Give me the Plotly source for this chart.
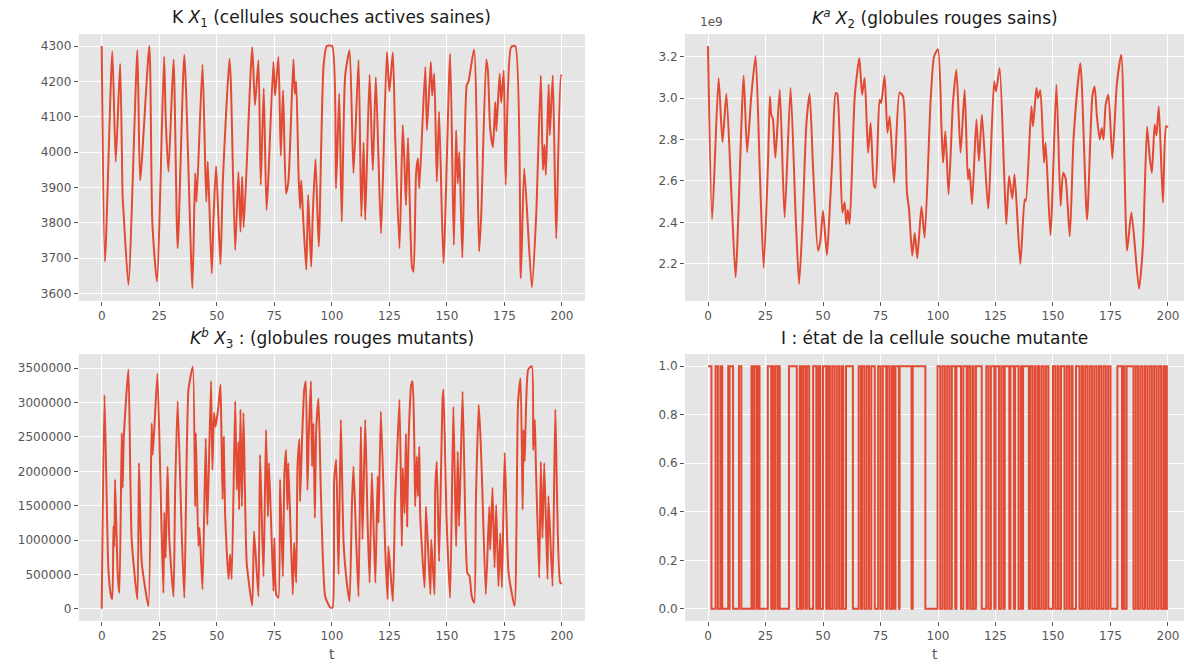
import plotly.graph_objects as go

# ---------------- data ----------------
x1_t = [0, 1.4, 4.6, 6.1, 8, 9.1, 9.4, 11.6, 15.5, 16.7, 20.7, 22, 24, 27.1, 27.8, 29, 31.2, 33, 35.9, 39.4,
        40.6, 41.2, 43.8, 45.4, 46.1, 47.8, 48.6, 49.7, 51.6, 52.6, 55.5, 56.1, 58, 59.4, 60.3, 61, 61.7, 65.4,
        66.6, 68.1, 69.1, 70.4, 71.6, 72.4, 74.6, 75.3, 76.8, 77.8, 78.8, 80.1, 81.1, 83.3, 83.9, 84.5, 85.5,
        86.2, 86.7, 87.4, 88.9, 89.7, 91, 91.7, 92.9, 94.3, 96.4, 97.8, 100.1, 101.8, 103.2, 104.3, 105.8, 107.7,
        109.4, 111.6, 112.8, 113.8, 114.5, 116.4, 117.8, 119.1, 120.3, 121.4, 123.9, 125, 126.5, 127.5, 129.4,
        130.8, 131.5, 132.2, 133.1, 134.8, 135.5, 136.6, 137.4, 138, 140.6, 141.3, 143, 143.6, 144.5, 145.6,
        146.6, 148.5, 151.4, 153, 154, 154.7, 155.4, 156.7, 158.6, 159.4, 161.8, 164, 164.9, 167.1, 167.8,
        168.8, 170, 171, 171.5, 172.9, 173.6, 174.7, 175.5, 177.9, 179.7, 182.1, 183.6, 186.9, 188.8, 190.8,
        191.7, 192.4, 193, 194.2, 194.7, 196, 197.5, 199.6, 200]
x1_val = [4300, 3690, 4285, 3973, 4250, 3870, 3840, 3625, 4288, 3920, 4300, 3800, 3634, 4270, 4095, 3945, 4262,
          3728, 4275, 3615, 3940, 3860, 4247, 3860, 3973, 3657, 3817, 3960, 3683, 3912, 4264, 4200, 3723, 3944,
          3775, 3930, 3787, 4297, 4133, 4260, 3907, 4180, 3836, 3925, 4255, 4160, 4269, 3990, 4175, 3883, 3916,
          4262, 4165, 4200, 3944, 3840, 3920, 3832, 3667, 3879, 3676, 3822, 3980, 3733, 4245, 4300, 4300, 3897,
          4165, 3803, 4217, 4288, 3940, 4260, 3817, 4027, 3808, 4219, 3949, 4212, 3973, 3770, 4283, 4172, 4282,
          4048, 3728, 4077, 3977, 3850, 4040, 3676, 3662, 3940, 3982, 3897, 4241, 4062, 4255, 4160, 4222, 3916,
          4114, 3686, 4278, 3737, 4062, 3911, 4000, 3702, 4189, 4200, 4290, 3719, 3822, 4262, 4231, 4066, 4014,
          4142, 4060, 4222, 4140, 4231, 3907, 4297, 4300, 3643, 3954, 3617, 3822, 4217, 3949, 4020, 3935, 4191,
          4048, 4217, 3756, 4217, 4215]

x2_t = [0, 1.8, 4.6, 6.3, 8, 10.2, 12, 15.5, 17, 18.8, 20.7, 22.5, 24.2, 26.1, 26.9, 27.5, 28.2, 29.3, 31.2,
        33.3, 35.9, 38.1, 39.6, 41, 42.8, 44.2, 45.7, 47.8, 48.8, 50, 51.7, 52.6, 54.1, 55.5, 56.2, 58.4, 59.4,
        60.1, 60.8, 61.6, 63.8, 65.8, 67, 68.1, 69.6, 70.7, 72.2, 72.8, 74.6, 75.3, 76.8, 78, 79, 80.9, 83.3,
        84.8, 86.5, 87.4, 88.8, 89.9, 91, 92.8, 94.2, 96.8, 98.3, 100, 101.5, 102.2, 103.2, 104.6, 106.5, 108,
        109.8, 111.6, 113, 113.7, 114.8, 116.7, 117.8, 119.1, 121.8, 124.4, 125.2, 126.8, 128.7, 129.7, 130.9,
        132.3, 133.3, 135.8, 137.7, 138.2, 140.6, 141.3, 142.8, 143.5, 144.5, 146.1, 146.8, 148.9, 151.5, 153.3,
        154.4, 155.5, 157.3, 159, 161.9, 164.8, 167.1, 168.1, 169.1, 170.3, 171.2, 172, 172.9, 174.1, 175.8,
        177.8, 179.7, 182.2, 184.1, 187.4, 189.1, 190.9, 192, 193, 194.2, 195, 196, 197.8, 199.2, 200]
x2_1e9 = [3.25, 2.416, 3.096, 2.787, 3.021, 2.528, 2.136, 3.107, 2.739, 3.008, 3.203, 2.656, 2.181, 2.688, 3.008,
          2.92, 2.9, 2.712, 3.04, 2.424, 3.048, 2.432, 2.104, 2.376, 2.88, 3.021, 2.656, 2.264, 2.307, 2.456,
          2.243, 2.392, 2.72, 3.024, 3.02, 2.448, 2.496, 2.392, 2.46, 2.392, 3.008, 3.192, 3.016, 3.096, 2.736,
          2.88, 2.576, 2.568, 2.992, 2.976, 3.107, 2.832, 2.912, 2.592, 3.027, 3.008, 2.544, 2.464, 2.24, 2.349,
          2.227, 2.477, 2.328, 2.992, 3.2, 3.235, 2.864, 2.688, 2.84, 2.536, 2.976, 3.136, 2.736, 3.04, 2.608,
          2.656, 2.488, 2.896, 2.696, 2.92, 2.467, 3.08, 3.032, 3.144, 2.656, 2.392, 2.624, 2.515, 2.632, 2.2,
          2.512, 2.504, 2.96, 2.864, 3.048, 3.0, 3.037, 2.688, 2.784, 2.339, 3.064, 2.48, 2.64, 2.611, 2.333,
          2.816, 3.168, 2.413, 3.008, 3.056, 2.912, 2.8, 2.856, 2.8, 2.968, 3.016, 2.707, 3.072, 3.208, 2.264,
          2.448, 2.08, 2.288, 2.861, 2.72, 2.64, 2.872, 2.82, 2.96, 2.496, 2.864, 2.86]

x3_t = [0, 1.2, 2.9, 4.1, 4.6, 5.1, 5.5, 5.8, 7, 7.7, 8.7, 9.1, 9.6, 11.6, 13, 15.5, 16.2, 17.4, 20.3, 21.7, 22.2,
        24.2, 25.8, 26.8, 27.2, 27.8, 28.6, 29.4, 31.2, 31.9, 33, 34.8, 35.9, 37.7, 39.6, 40.6, 40.9, 42, 42.5,
        43.8, 45.2, 45.9, 47.5, 48.1, 48.8, 49.5, 50.7, 51.6, 52, 52.5, 53, 53.6, 54.3, 55.1, 55.8, 56.5, 58,
        58.7, 59.4, 59.7, 60.3, 60.9, 61.6, 63, 65.4, 66.2, 68.1, 68.8, 70.3, 71.4, 72.2, 72.7, 74.6, 75, 75.8,
        76.8, 77.5, 78.7, 79.4, 80.1, 80.7, 81.1, 83, 83.6, 84.5, 85.1, 85.9, 86.2, 87.2, 88, 88.7, 89.4, 90,
        90.9, 91.4, 92, 92.6, 93.2, 94.2, 95.2, 97.1, 99.3, 100.3, 101, 101.9, 102.9, 103.9, 105.1, 106.5,
        107.7, 108.7, 109.4, 110.6, 111.6, 112.6, 113.3, 114.5, 115.5, 116.4, 117.4, 118.9, 119.9, 120.3,
        121.3, 123.2, 124.2, 124.6, 126.5, 127.5, 128.3, 129.4, 130.4, 130.8, 131.6, 132.2, 132.7, 133.3,
        134.5, 135.1, 135.8, 136.2, 136.9, 137.4, 138, 138.4, 140.3, 140.9, 142.8, 143.2, 144.6, 144.9, 145.6,
        146.6, 148.1, 148.5, 149.9, 151.4, 152.8, 154, 154.7, 155.3, 156.8, 158.2, 158.9, 159.8, 160.8, 161.9,
        162.6, 163.8, 164.5, 165.2, 166.9, 168.4, 168.8, 169.8, 170.7, 171.4, 172.4, 173.2, 173.9, 175.1,
        176.8, 179.4, 180.9, 182, 182.9, 183.3, 183.8, 185.3, 186.9, 187.5, 188.2, 188.6, 190.1, 190.8, 191.5,
        192.3, 193.7, 194.1, 195.9, 197.1, 199.2, 200]
x3_millions = [0, 3.11, 0.57, 0.18, 0.14, 1.2, 0.9, 1.88, 0.47, 0.23, 2.56, 1.76, 2.5, 3.48, 1.01, 0.14, 2.12,
               0.67, 0.04, 2.7, 2.24, 3.42, 1.44, 0.23, 1.4, 0.74, 2.07, 1.0, 0.18, 1.71, 3.02, 1.06, 0.16, 3.19,
               3.52, 1.49, 2.56, 0.91, 1.18, 0.28, 2.48, 1.22, 3.31, 2.02, 2.85, 2.65, 2.94, 3.26, 2.6, 1.59,
               2.5, 1.39, 0.86, 0.43, 0.79, 0.43, 3.02, 1.73, 2.43, 1.44, 2.9, 1.49, 2.85, 0.67, 0.05, 1.13, 0.18,
               2.24, 0.47, 2.6, 1.34, 2.12, 0.26, 1.03, 0.21, 0.16, 1.88, 0.47, 1.98, 2.31, 1.44, 2.12, 0.21,
               0.96, 0.38, 2.1, 2.47, 1.56, 2.6, 3.19, 3.31, 1.73, 2.55, 3.31, 2.07, 2.7, 1.32, 2.6, 3.06, 1.73,
               0.18, 0.02, 0.02, 1.85, 2.17, 0.5, 2.75, 0.96, 0.38, 0.11, 1.49, 2.07, 0.98, 0.18, 2.65, 1.01,
               2.75, 1.3, 0.38, 1.98, 0.38, 1.93, 1.25, 2.87, 0.86, 0.14, 0.91, 0.11, 1.61, 2.22, 3.04, 0.91,
               2.05, 1.39, 2.55, 1.2, 2.4, 3.26, 3.31, 2.46, 1.49, 2.22, 1.64, 2.36, 1.35, 0.31, 1.49, 0.21,
               1.01, 0.21, 1.71, 2.14, 0.69, 3.04, 3.19, 1.25, 0.16, 2.94, 0.91, 2.29, 1.2, 3.16, 0.96, 0.52,
               0.48, 0.18, 0.09, 1.59, 2.97, 2.56, 1.93, 0.21, 1.49, 0.86, 1.76, 0.6, 1.51, 0.33, 1.1, 0.31,
               2.27, 0.52, 0.04, 2.99, 3.35, 1.44, 2.6, 2.15, 3.48, 3.53, 2.31, 2.75, 2.17, 0.45, 2.14, 1.03,
               2.12, 0.43, 1.64, 0.33, 2.9, 0.38, 0.37]

# intervals [start, end] where the mutant stem cell state I equals 1
i_on_start = [0, 3.3, 5.4, 8.8, 9.4, 13.5, 18.9, 20.3, 21.8, 26, 28, 29.4, 30.7, 35.2, 39.9, 41.5, 43, 45.7,
              48, 50, 52.2, 54, 56, 58, 60, 65.5, 67, 69, 71, 74, 76, 78, 80, 81.5, 83.3, 89, 99.8, 102,
              104, 106, 108, 111, 113, 115, 116.5, 121, 123, 125, 127.5, 129, 131.5, 133.5, 136, 137, 140, 142,
              143.5, 145, 147, 150, 152, 153.5, 156, 158, 160, 162.5, 164, 166, 168, 170, 172, 174, 178, 180.5,
              182, 186, 188, 190, 192, 194, 196, 198, 199]
i_on_end = [1.5, 4.3, 6.2, 9.0, 10.9, 14.5, 19.4, 21.3, 22.4, 27.5, 28.5, 30.4, 31.2, 38.6, 40.6, 42.5, 44,
            47.1, 48.8, 51.4, 53, 55, 57, 58.8, 63, 66.5, 68, 70, 72.5, 75, 77.5, 79, 80.7, 83, 88.5, 94.5,
            101, 103, 105, 107.5, 110, 112.5, 114, 115.5, 119, 122, 124.5, 126.5, 128.5, 131, 133, 135, 136.5,
            139.5, 141, 142.5, 144, 146, 148, 151, 152.5, 155, 157, 158.5, 161.5, 163, 165, 167, 169, 171, 173,
            175, 180, 181, 185, 187, 189, 191, 193, 195, 197, 198.5, 199.5]

x_ticks = [0, 25, 50, 75, 100, 125, 150, 175, 200]

titles = ["K <i>X</i><sub>1</sub> (cellules souches actives saines)",
          "<i>K</i><sup><i>a</i></sup> <i>X</i><sub>2</sub> (globules rouges sains)",
          "<i>K</i><sup><i>b</i></sup> <i>X</i><sub>3</sub> : (globules rouges mutants)",
          "I : état de la cellule souche mutante"]

# ---------------- build step series for I ----------------
i_t, i_v = [], []
prev = 0.0
for s, e in zip(i_on_start, i_on_end):
    if s > prev:
        i_t += [prev, s]
        i_v += [0, 0]
    i_t += [s, e]
    i_v += [1, 1]
    prev = e
i_t += [prev, 200]
i_v += [0, 0]

LINE = "#E24A33"
W = 1184
H = 664

fig = go.Figure()
fig.add_trace(go.Scatter(x=x1_t, y=x1_val, mode="lines",
                         line=dict(color=LINE, width=2, shape="spline", smoothing=0.6),
                         xaxis="x", yaxis="y"))
fig.add_trace(go.Scatter(x=x2_t, y=x2_1e9, mode="lines",
                         line=dict(color=LINE, width=2, shape="spline", smoothing=0.6),
                         xaxis="x2", yaxis="y2"))
fig.add_trace(go.Scatter(x=x3_t, y=[v * 1e6 for v in x3_millions], mode="lines",
                         line=dict(color=LINE, width=2, shape="spline", smoothing=0.5),
                         xaxis="x3", yaxis="y3"))
fig.add_trace(go.Scatter(x=i_t, y=i_v, mode="lines", line=dict(color=LINE, width=2),
                         xaxis="x4", yaxis="y4"))

left_dom = [78.7 / W, 585 / W]
right_dom = [685 / W, 1.0]
top_dom = [1 - 301 / H, 1 - 34 / H]
bot_dom = [1 - 621 / H, 1 - 354 / H]

ax_common = dict(showgrid=True, gridcolor="white", gridwidth=1, zeroline=False, showline=False,
                 ticks="outside", ticklen=4, tickwidth=1, tickcolor="#555555",
                 tickfont=dict(family="DejaVu Sans", size=12, color="#555555"))

xcommon = dict(ax_common, tickmode="array", tickvals=x_ticks, ticktext=[str(v) for v in x_ticks])

fig.update_layout(
    width=W, height=H, margin=dict(l=0, r=0, t=0, b=0),
    paper_bgcolor="white", plot_bgcolor="#E5E5E5", showlegend=False,
    font=dict(family="DejaVu Sans", color="#555555", size=12),
    xaxis=dict(xcommon, domain=left_dom, range=[-10, 210], anchor="y"),
    yaxis=dict(ax_common, domain=top_dom, range=[3579, 4334], dtick=100, tick0=3600, anchor="x"),
    xaxis2=dict(xcommon, domain=right_dom, range=[-10, 206.96], anchor="y2"),
    yaxis2=dict(ax_common, domain=top_dom, range=[2.0215, 3.3085], dtick=0.2, tick0=2.2,
                tickformat=".1f", anchor="x2"),
    xaxis3=dict(xcommon, domain=left_dom, range=[-10, 210], anchor="y3"),
    yaxis3=dict(ax_common, domain=bot_dom, range=[-176500, 3706500], dtick=500000, tick0=0,
                tickformat="d", anchor="x3"),
    xaxis4=dict(xcommon, domain=right_dom, range=[-10, 206.96], anchor="y4"),
    yaxis4=dict(ax_common, domain=bot_dom, range=[-0.05, 1.05], dtick=0.2, tick0=0,
                tickformat=".1f", anchor="x4"),
)

title_pos = [((left_dom[0] + left_dom[1]) / 2, 1 - 18 / H),
             ((right_dom[0] + right_dom[1]) / 2, 1 - 18 / H),
             ((left_dom[0] + left_dom[1]) / 2, 1 - 338 / H),
             ((right_dom[0] + right_dom[1]) / 2, 1 - 338 / H)]
annotations = []
for txt, (xp, yp) in zip(titles, title_pos):
    annotations.append(dict(text=txt, x=xp, y=yp, xref="paper", yref="paper", showarrow=False,
                            xanchor="center", yanchor="middle",
                            font=dict(family="DejaVu Sans", size=17, color="#1a1a1a")))
for xp in [(left_dom[0] + left_dom[1]) / 2, (right_dom[0] + right_dom[1]) / 2]:
    annotations.append(dict(text="t", x=xp, y=1 - 654 / H, xref="paper", yref="paper", showarrow=False,
                            xanchor="center", yanchor="middle",
                            font=dict(family="DejaVu Sans", size=14, color="#555555")))
annotations.append(dict(text="1e9", x=right_dom[0] + 13 / W, y=1 - 22 / H, xref="paper", yref="paper",
                        showarrow=False, xanchor="left", yanchor="middle",
                        font=dict(family="DejaVu Sans", size=12, color="#555555")))
fig.update_layout(annotations=annotations)

fig.write_html("out.html", config={"displayModeBar": False},
               post_script="document.body.style.margin='0';document.body.style.overflow='hidden';")
